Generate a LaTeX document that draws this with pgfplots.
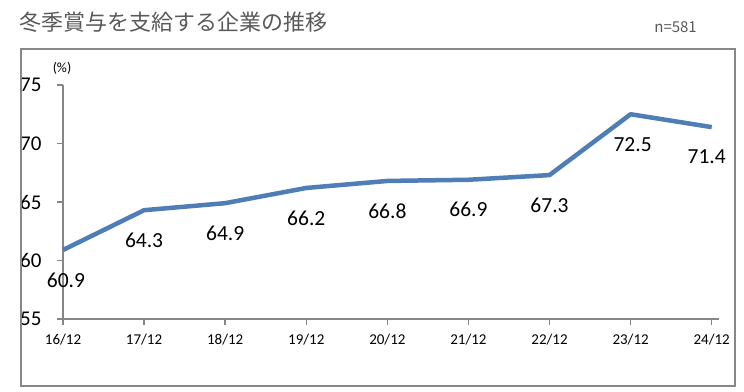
\documentclass[border=0pt]{standalone}
\usepackage{pgfplots}
\pgfplotsset{compat=1.18}
\usepackage{fontspec}
\setmainfont{Carlito}
\newfontfamily\cjk{Noto Sans CJK JP}
\definecolor{linec}{HTML}{4F7DB5}
\definecolor{framec}{HTML}{878787}
\definecolor{titlec}{HTML}{595959}
\definecolor{axisc}{HTML}{868686}
\begin{document}
\begin{tikzpicture}
\begin{axis}[
  name=ax,
  scale only axis,
  width=656bp, height=234bp,
  xmin=0, xmax=8.09, ymin=55, ymax=75,
  axis x line*=bottom, axis y line*=left,
  axis line style={draw=axisc, line width=2bp, -},
  tick style={draw=axisc, line width=1.5bp},
  tick align=outside, major tick length=6bp,
  xtick={0,...,8},
  xticklabels={16/12,17/12,18/12,19/12,20/12,21/12,22/12,23/12,24/12},
  ytick={55,60,65,70,75},
  xticklabel style={font=\fontsize{15bp}{17bp}\selectfont, yshift=-6bp},
  yticklabel style={font=\fontsize{21bp}{23bp}\selectfont, xshift=-12bp},
  /pgf/number format/assume math mode=true,
  clip=false,
  nodes near coords,
  point meta=explicit,
  nodes near coords={\pgfmathprintnumber[fixed,fixed zerofill,precision=1]{\pgfplotspointmeta}},
  visualization depends on={\thisrow{dx} \as \dx},
  every node near coord/.append style={anchor=center, yshift=-30bp, xshift=\dx bp, font=\fontsize{21.5bp}{23bp}\selectfont, text=black},
]
\addplot[linec, line width=4.5bp, line join=round, mark=none] table[x=x, y=y, meta=y] {
x y dx
0 60.9 3
1 64.3 0
2 64.9 0
3 66.2 0
4 66.8 0
5 66.9 0
6 67.3 0
7 72.5 2
8 71.4 -5
};
\end{axis}
\begin{scope}[x=1bp,y=1bp,shift={(ax.south west)}, xshift=-63bp, yshift=-72bp]
\useasboundingbox (0,0) rectangle (744,391);
\draw[framec, line width=2.5bp] (21,5) rectangle (735,342);
\node[anchor=west, inner sep=0, text=titlec, font=\cjk\fontsize{22bp}{24bp}\selectfont] at (19,369) {冬季賞与を支給する企業の推移};
\node[anchor=east, inner sep=0, text=titlec, font=\cjk\fontsize{15bp}{17bp}\selectfont] at (697,364) {n=581};
\node[inner sep=0, font=\fontsize{14bp}{16bp}\selectfont] at (62,323) {(\%)};
\end{scope}
\end{tikzpicture}
\end{document}
